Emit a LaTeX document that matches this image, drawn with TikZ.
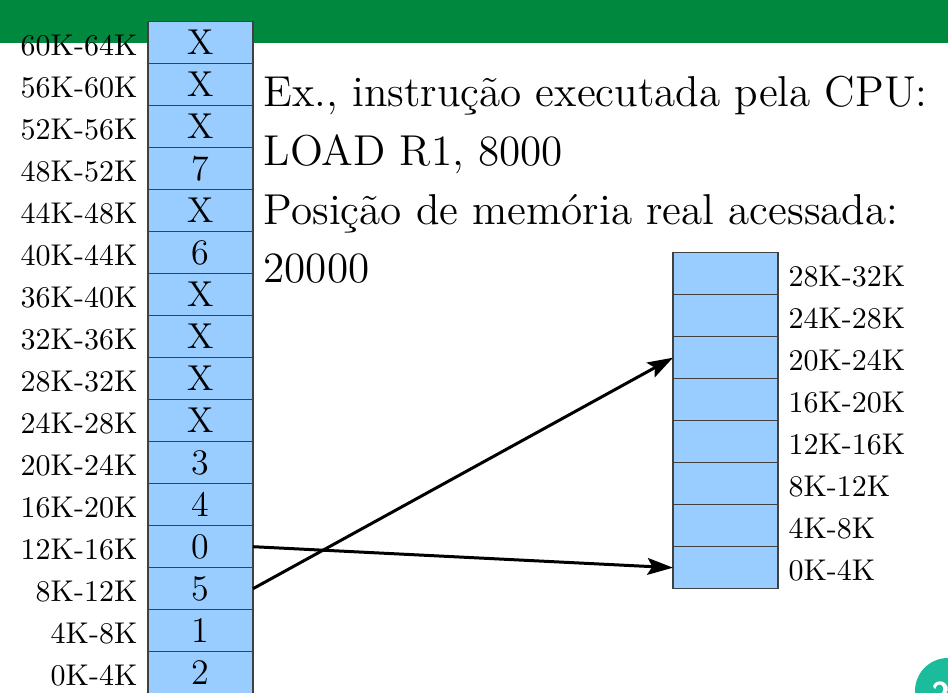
\documentclass[tikz,border=0pt]{standalone}
\usetikzlibrary{arrows.meta}
\definecolor{barGreen}{RGB}{0,137,62}
\definecolor{cellBlue}{RGB}{153,204,255}
\definecolor{badgeTeal}{RGB}{26,188,156}
\begin{document}
\begin{tikzpicture}[x=0.3333pt,y=-0.3333pt,
  cell/.style={draw=black!75, fill=cellBlue, line width=0.45pt, minimum width=35pt,
    minimum height=14pt, inner sep=0pt, outer sep=0pt, anchor=north west,
    font=\fontsize{12}{14}\selectfont},
  addr/.style={inner sep=0pt, font=\fontsize{10}{12}\selectfont},
  maintext/.style={inner sep=0pt, anchor=base west, font=\fontsize{14.4}{18}\selectfont},
  arr/.style={line width=1pt, -{Stealth[length=8.5pt,width=5.6pt,inset=1.6pt]}}]
\useasboundingbox (0,0) rectangle (948,693);
\fill[barGreen] (0,0) rectangle (948,42.7);
% left column (logical pages)
\foreach \v [count=\i from 0] in {X,X,X,7,X,6,X,X,X,X,3,4,0,5,1,2} {
  \pgfmathtruncatemacro\lo{(15-\i)*4}
  \pgfmathtruncatemacro\hi{(16-\i)*4}
  \node[cell] (L\i) at (148,{21.7+42*\i}) {\raisebox{-0.7pt}{\v}};
  \node[addr, anchor=east] (LA\i) at (138,{21.7+42*\i+24}) {\lo K-\hi K};
}
% right column (physical frames)
\foreach \j in {0,...,7} {
  \pgfmathtruncatemacro\lo{(7-\j)*4}
  \pgfmathtruncatemacro\hi{(8-\j)*4}
  \node[cell] (R\j) at (673,{252.7+42*\j}) {};
  \node[addr, anchor=west] (RA\j) at (788,{252.7+42*\j+23.5}) {\lo K-\hi K};
}
% text
\node[maintext] (t1) at (263,106.7) {Ex., instrução executada pela CPU:};
\node[maintext] (t2) at (263,166) {LOAD R1, 8000};
\node[maintext] (t3) at (263,225) {Posição de memória real acessada:};
\node[maintext] (t4) at (263,283) {20000};
% arrows
\draw[arr] (L12.east) -- (R7.west);
\draw[arr] (L13.east) -- (R2.west);
% page badge
\fill[badgeTeal] (948,691) circle (33);
\node[inner sep=0pt, anchor=north west, text=white, font=\sffamily\bfseries\fontsize{11}{13}\selectfont] (pg) at (931,681) {2};
\end{tikzpicture}
\end{document}
